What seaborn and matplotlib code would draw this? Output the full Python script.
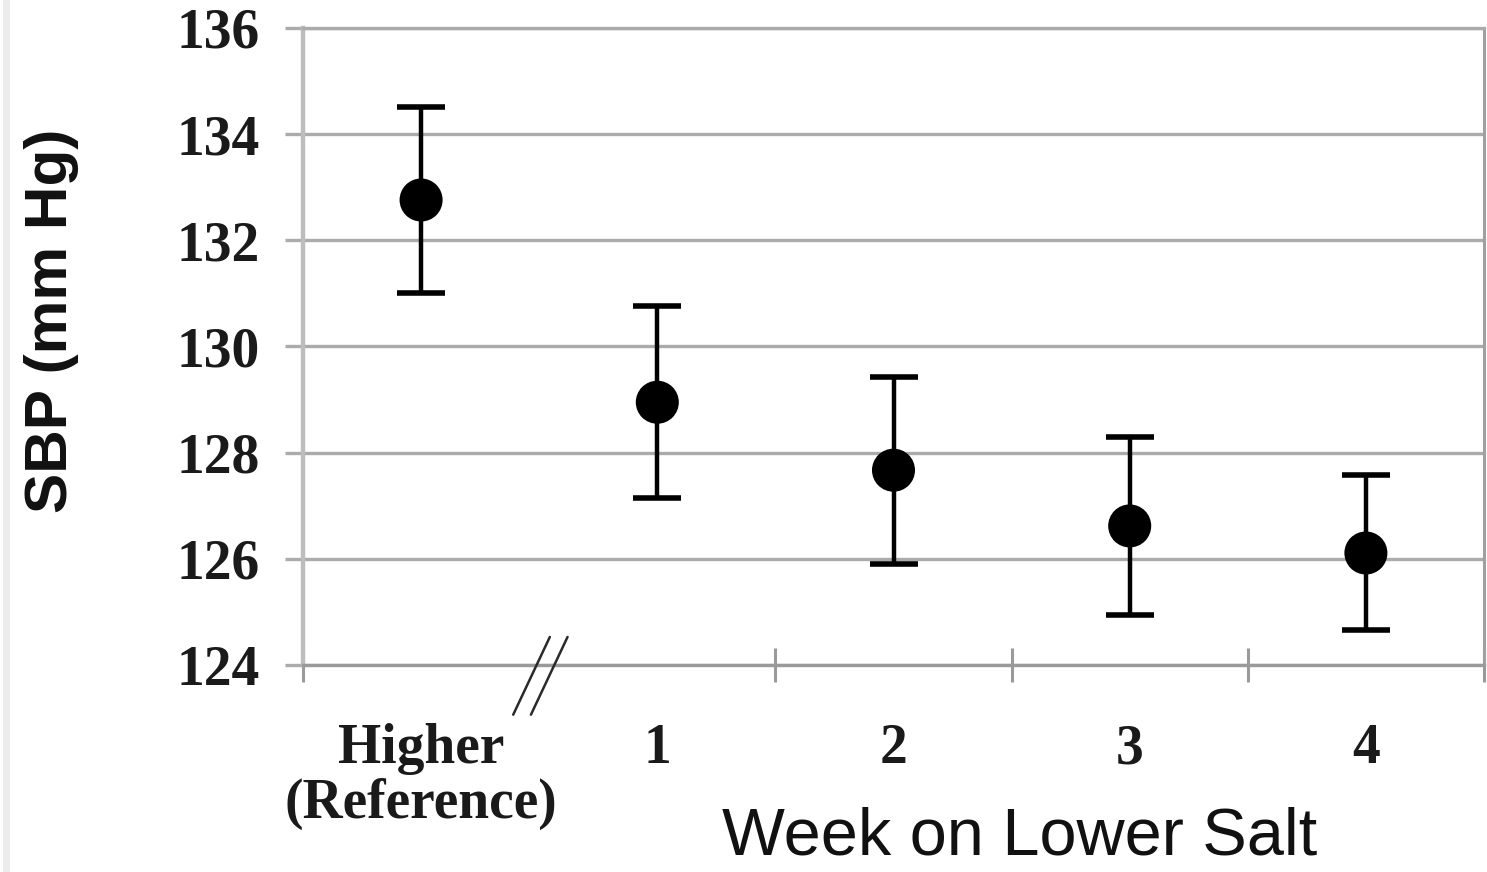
import numpy as np
import pandas as pd
import matplotlib
matplotlib.use("Agg")
import matplotlib.pyplot as plt
import seaborn as sns
from matplotlib.lines import Line2D

# ---- data ----
categories = ["Higher\n(Reference)", "1", "2", "3", "4"]
sbp_mean = [132.76, 128.95, 127.67, 126.62, 126.11]
sbp_err = [1.75, 1.81, 1.76, 1.68, 1.46]
y_ticks = [124, 126, 128, 130, 132, 134, 136]
x_label = "Week on Lower Salt"
y_label = "SBP (mm Hg)"

df = pd.DataFrame({"week": categories, "sbp": sbp_mean, "err": sbp_err})

sns.set_theme(style="white")
plt.rcParams["font.family"] = ["Liberation Serif", "DejaVu Serif"]

fig = plt.figure(figsize=(14.87, 8.72), dpi=100)
ax = fig.add_axes([303 / 1487, 1 - 665 / 872, (1484 - 303) / 1487, (665 - 28) / 872])

xpos = np.arange(len(categories))
grid_col = "#ababab"

# horizontal grid
ax.set_ylim(y_ticks[0], y_ticks[-1])
ax.set_yticks(y_ticks)
ax.yaxis.grid(True, color=grid_col, linewidth=2.4, zorder=0)
ax.xaxis.grid(False)
ax.set_axisbelow(True)

# error bars
ax.errorbar(xpos, df["sbp"], yerr=df["err"], fmt="none", ecolor="black",
            elinewidth=3.2, capsize=17, capthick=4.0, zorder=3)
# points
sns.scatterplot(data=df, x="week", y="sbp", ax=ax, color="black", s=960,
                edgecolor="none", linewidth=0, zorder=4, legend=False)

ax.set_xlim(-0.5, len(categories) - 0.5)
ax.set_xticks(xpos)
ax.set_xticklabels(categories)
ax.set_xticks([-0.5, 1.5, 2.5, 3.5, len(categories) - 0.5], minor=True)
ax.tick_params(axis="x", which="major", length=0, pad=42, labelsize=40,
               labelcolor="#1a1a1a")
ax.tick_params(axis="x", which="minor", direction="inout", length=25,
               width=2.2, color="#9a9a9a", bottom=True)
ax.tick_params(axis="y", which="major", direction="out", length=13,
               width=2.4, color=grid_col, pad=18, labelsize=40,
               labelcolor="#1a1a1a", left=True)
for lab in ax.get_xticklabels() + ax.get_yticklabels():
    lab.set_fontweight("bold")
    lab.set_family(["Liberation Serif", "DejaVu Serif"])
for lab in ax.get_xticklabels():
    lab.set_linespacing(1.05)

# spines
for side in ["left", "right", "top", "bottom"]:
    ax.spines[side].set_visible(True)
ax.spines["left"].set_color("#bdbdbd")
ax.spines["left"].set_linewidth(3.2)
ax.spines["right"].set_color("#a0a0a0")
ax.spines["right"].set_linewidth(2.2)
ax.spines["top"].set_color(grid_col)
ax.spines["top"].set_linewidth(2.4)
ax.spines["bottom"].set_color("#9a9a9a")
ax.spines["bottom"].set_linewidth(2.4)

# axis break mark "//" between reference and week 1
brk = 0.5
trans = ax.get_xaxis_transform()
for dx in (0.0, 0.075):
    ax.add_line(Line2D([brk - 0.11 + dx, brk + 0.045 + dx], [-0.078, 0.044],
                       transform=trans, color="#2a2a2a", linewidth=1.8,
                       clip_on=False, zorder=5))

# labels
ax.set_ylabel(y_label, fontsize=43.5, fontweight="bold",
              family=["Liberation Sans", "DejaVu Sans"], color="#111111")
ax.yaxis.set_label_coords(-0.19, 0.54)
ax.set_xlabel(x_label, fontsize=48, family=["Liberation Sans", "DejaVu Sans"],
              color="#111111")
ax.xaxis.set_label_coords(0.607, -0.222)

# faint left border of the original image
fig.add_artist(Line2D([0.004, 0.004], [0, 1], transform=fig.transFigure,
                      color="#ececec", linewidth=5))

fig.savefig("out.png", dpi=100, facecolor="white")
